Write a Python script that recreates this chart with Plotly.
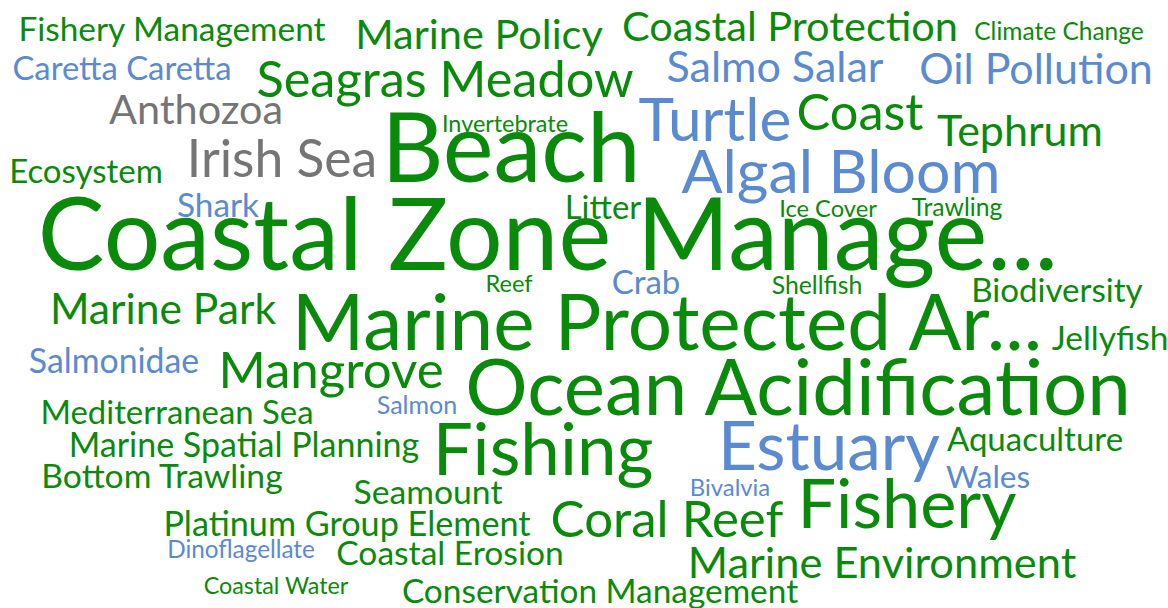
import plotly.graph_objects as go

# ---- data ----
words = [
    "Fishery Management", "Marine Policy", "Coastal Protection", "Climate Change",
    "Caretta Caretta", "Seagras Meadow", "Salmo Salar", "Oil Pollution",
    "Anthozoa", "Turtle", "Coast", "Tephrum", "Invertebrate", "Beach",
    "Irish Sea", "Ecosystem", "Algal Bloom", "Shark", "Litter", "Ice Cover",
    "Trawling", "Coastal Zone Manage...", "Reef", "Crab", "Shellfish",
    "Biodiversity", "Marine Park", "Marine Protected Ar...", "Jellyfish",
    "Salmonidae", "Mangrove", "Ocean Acidification", "Mediterranean Sea",
    "Salmon", "Marine Spatial Planning", "Fishing", "Estuary", "Aquaculture",
    "Wales", "Bottom Trawling", "Bivalvia", "Seamount", "Fishery", "Coral Reef",
    "Platinum Group Element", "Dinoflagellate", "Coastal Erosion",
    "Marine Environment", "Coastal Water", "Conservation Management",
]
weights = [
    33.4, 41.5, 41.5, 24.5,
    32.8, 50.5, 43, 43,
    41.4, 60.4, 50.5, 43, 23.4, 96,
    51.6, 33, 60.8, 33.3, 32.9, 23.7,
    24.7, 100, 23.6, 33, 24.8,
    33.1, 42.6, 78.3, 33.5,
    33.8, 51, 78, 32.9,
    25, 34, 70.9, 67.4, 33,
    31.5, 33.7, 23.9, 33.7, 68.4, 51,
    34.2, 24.3, 33.6,
    43.4, 23.3, 33.4,
]
groups = [
    "g", "g", "g", "g",
    "b", "g", "b", "b",
    "k", "b", "g", "g", "g", "g",
    "k", "g", "b", "b", "g", "g",
    "g", "g", "g", "b", "g",
    "g", "g", "g", "g",
    "b", "g", "g", "g",
    "b", "g", "g", "b", "g",
    "b", "g", "b", "g", "g", "g",
    "g", "b", "g",
    "g", "g", "g",
]

# ---- layout positions (word centres in pixels) ----
pos_x = [
    172, 479, 790, 1059,
    122, 445, 775, 1036,
    196, 715, 860, 1020, 505, 511,
    282, 86, 841, 218, 603, 828,
    957, 548, 509, 646, 817,
    1057, 163, 667, 1110,
    114, 331, 798, 177,
    417, 244, 543, 829, 1035,
    988, 162, 730, 428, 907, 667,
    347, 241, 450,
    882, 276, 600,
]
pos_y = [
    33, 39, 31, 34,
    72, 84, 71, 73,
    114, 126, 117, 135, 126, 158,
    164, 175, 178, 209, 211, 211,
    210, 245, 286, 286, 288,
    294, 313, 330, 342,
    365, 375, 395, 416,
    408, 448, 457, 453, 443,
    480, 480, 490, 496, 511, 524,
    527, 552, 557,
    567, 588, 595,
]

colors = {"g": "#0a8a0a", "b": "#5a8ad0", "k": "#757575"}

fig = go.Figure()
fig.add_trace(go.Scatter(
    x=pos_x, y=pos_y, mode="text", text=words,
    textposition="middle center",
    textfont=dict(family="Lato", size=weights, color=[colors[g] for g in groups]),
    hoverinfo="text", showlegend=False,
))
fig.update_layout(
    width=1168, height=608,
    margin=dict(l=0, r=0, t=0, b=0),
    paper_bgcolor="white", plot_bgcolor="white",
    xaxis=dict(range=[0, 1168], visible=False, fixedrange=True),
    yaxis=dict(range=[608, 0], visible=False, fixedrange=True),
)
fig.write_html(
    "out.html",
    config={"displayModeBar": False},
    post_script="document.body.style.margin='0px';document.body.style.overflow='hidden';",
)
